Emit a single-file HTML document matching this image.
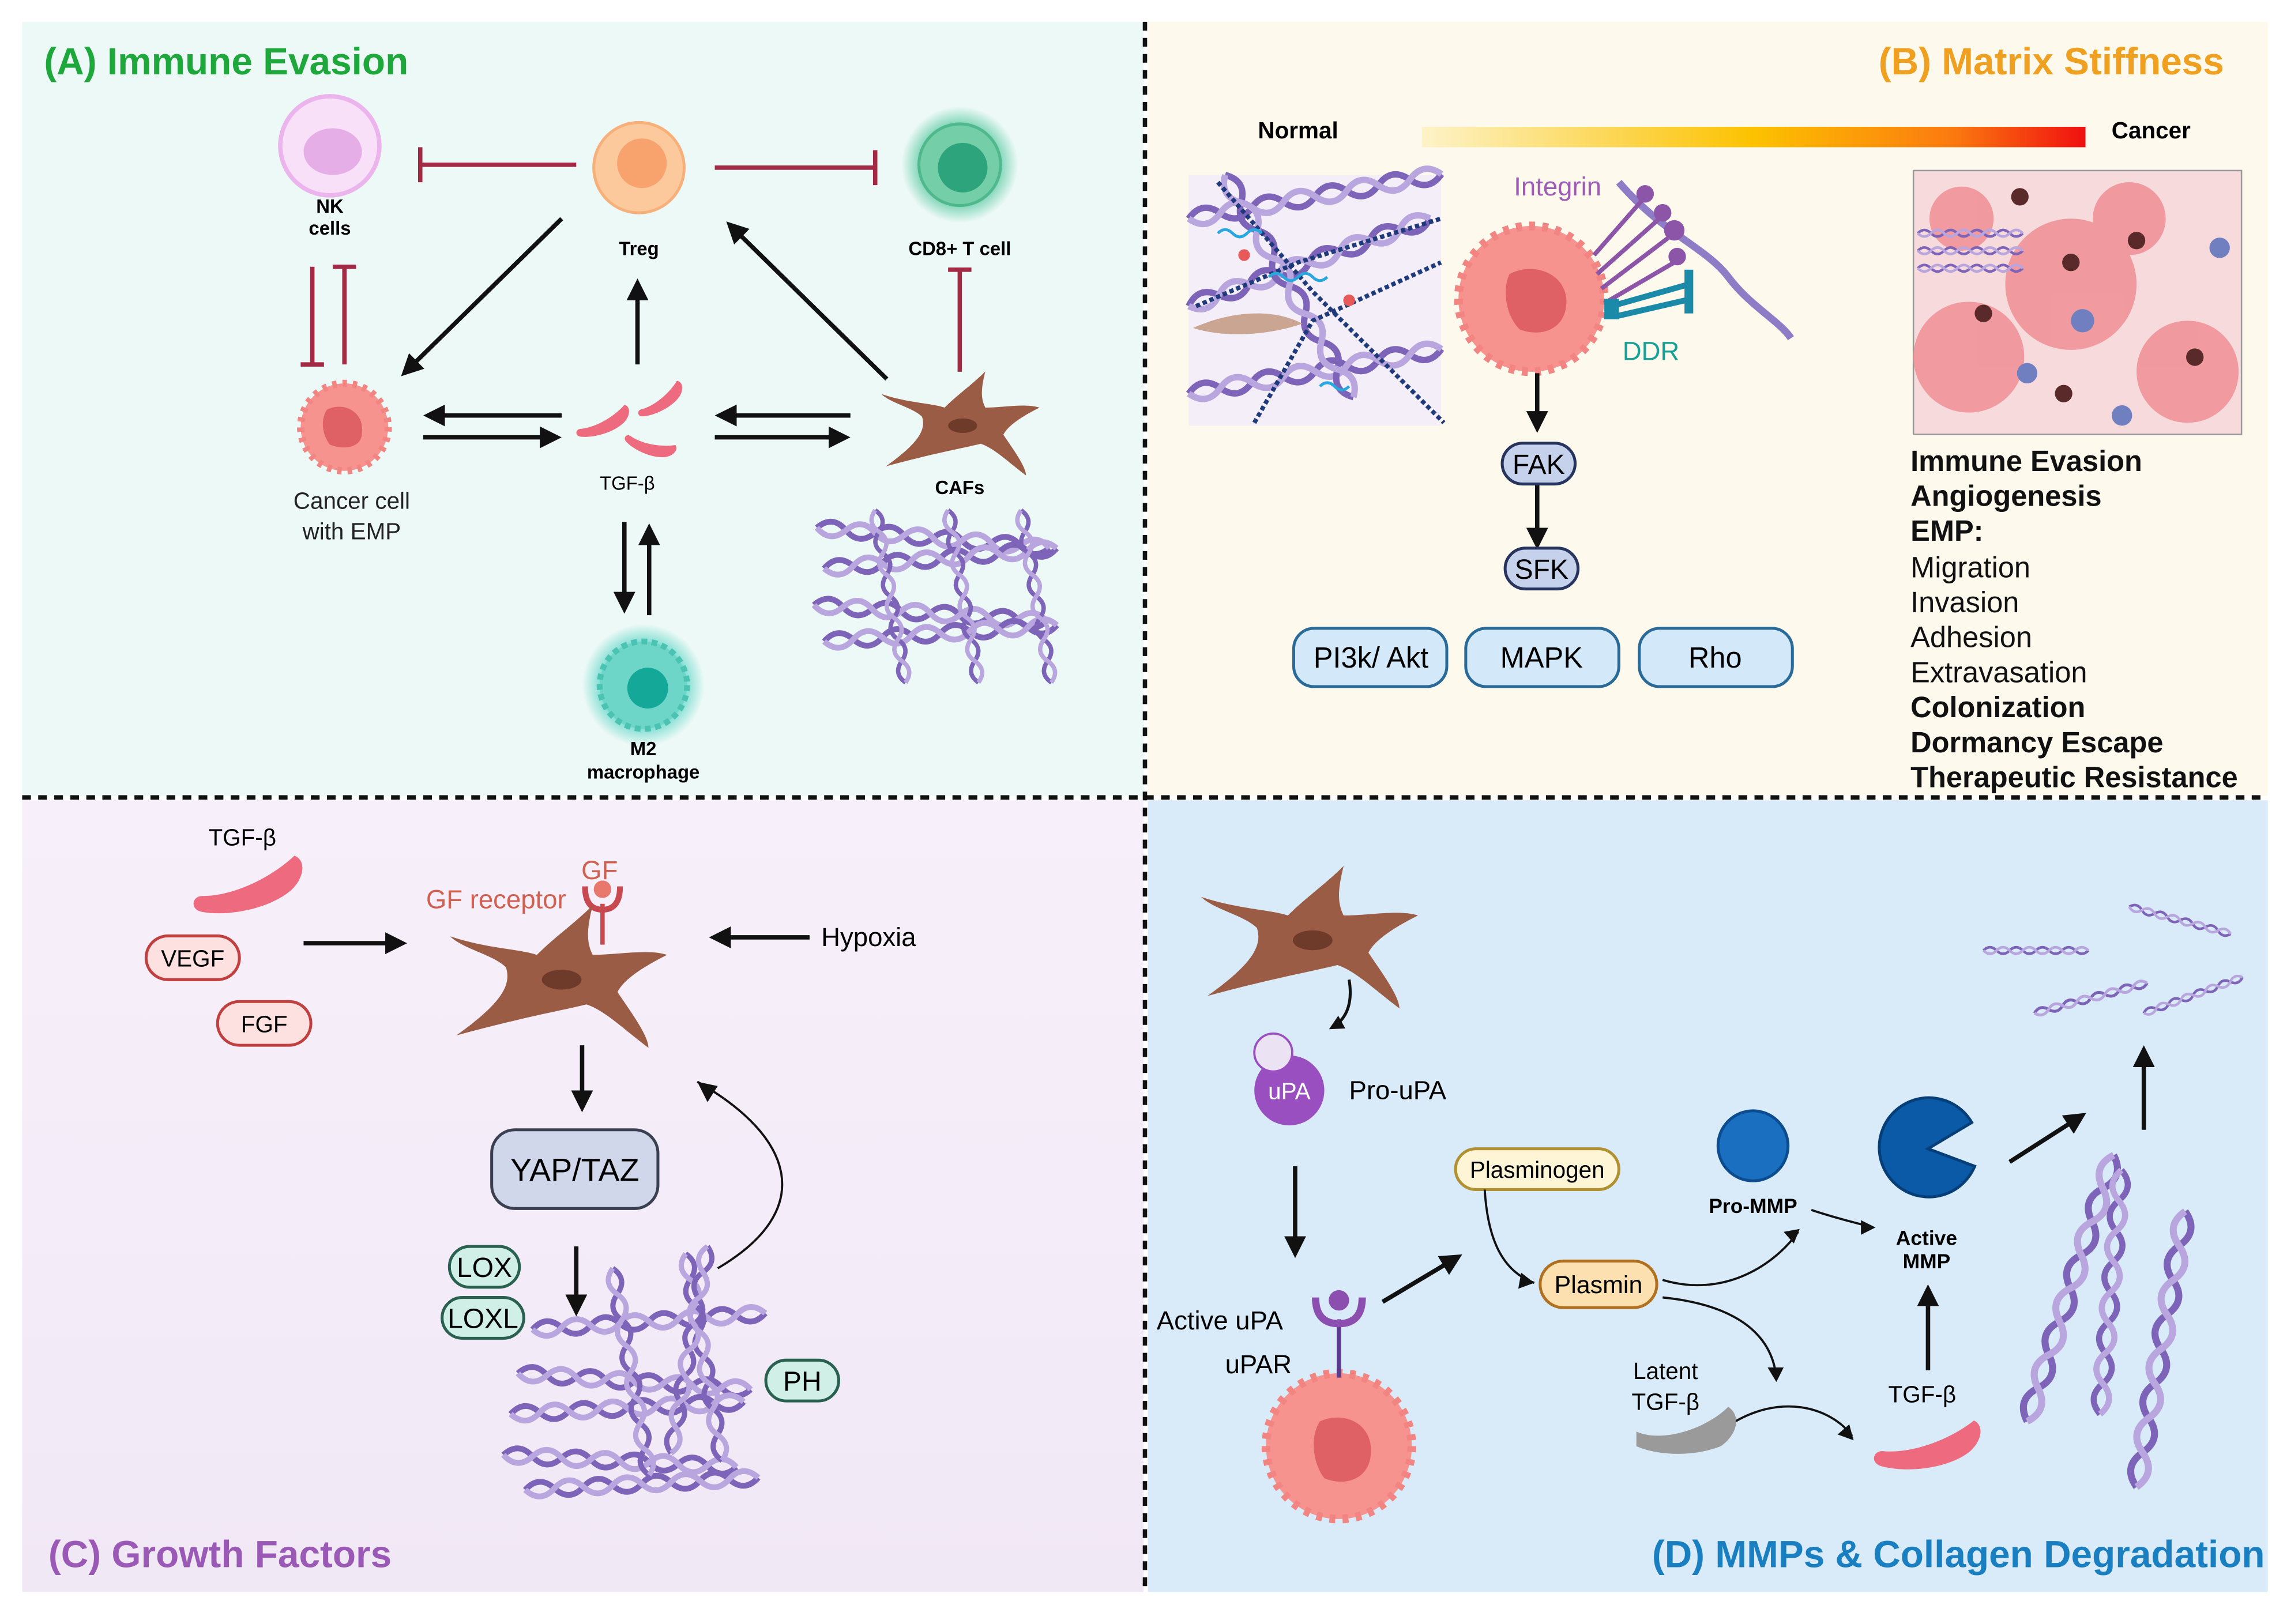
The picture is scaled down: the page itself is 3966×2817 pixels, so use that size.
<!DOCTYPE html>
<html><head><meta charset="utf-8">
<style>html,body{margin:0;padding:0;background:#fff;}svg{display:block;}
text{font-family:"Liberation Sans",sans-serif;}</style></head>
<body>
<svg width="3966" height="2817" viewBox="0 0 1568 1114" xmlns="http://www.w3.org/2000/svg">
<defs>
<marker id="ah" viewBox="0 0 10 10" refX="8" refY="5" markerWidth="5" markerHeight="5" orient="auto"><path d="M0,0 L10,5 L0,10 z" fill="#111"/></marker>
<linearGradient id="grad" x1="0" x2="1"><stop offset="0" stop-color="#fdf3c8"/><stop offset="0.5" stop-color="#fcc200"/><stop offset="0.8" stop-color="#fb7a10"/><stop offset="1" stop-color="#f01010"/></linearGradient>
<linearGradient id="gc" x1="0" y1="0" x2="0" y2="1"><stop offset="0" stop-color="#f7f0fa"/><stop offset="1" stop-color="#f1e8f6"/></linearGradient>
<radialGradient id="glowG"><stop offset="0.6" stop-color="#5fcba5"/><stop offset="1" stop-color="#5fcba5" stop-opacity="0"/></radialGradient>
<radialGradient id="glowT"><stop offset="0.6" stop-color="#5fd6c8"/><stop offset="1" stop-color="#5fd6c8" stop-opacity="0"/></radialGradient>
<g id="fib">
<path d="M0,0 q10,-10 20,0 t20,0 t20,0 t20,0 t20,0 t20,0 t20,0 t20,0" fill="none" stroke="#7d64b8" stroke-width="4"/>
<path d="M0,0 q10,10 20,0 t20,0 t20,0 t20,0 t20,0 t20,0 t20,0 t20,0" fill="none" stroke="#b9a6de" stroke-width="4"/>
</g>
<g id="caf"><path d="M-85,45 C-50,20 -40,5 -45,-10 C-55,-20 -80,-25 -90,-35 C-60,-25 -35,-25 -20,-20 C-5,-35 10,-45 25,-60 C20,-40 20,-30 25,-20 C45,-20 70,-25 85,-20 C65,-10 50,0 45,10 C55,25 70,45 70,55 C50,40 35,25 20,20 C0,25 -30,30 -85,45 z" fill="#9a5c44"/><ellipse cx="0" cy="0" rx="16" ry="8" fill="#6e3a2a"/></g>
<g id="tgf"><path d="M-30,8 C-10,10 15,0 30,-12 C38,-8 34,4 25,10 C10,20 -15,22 -30,18 C-38,16 -36,8 -30,8 z" fill="#ee6a7e"/></g>
<g id="cell"><circle r="30" fill="#f6938f" stroke="#f28482" stroke-width="5" stroke-dasharray="3 4"/><path d="M-12,-12 C0,-18 14,-10 12,4 C12,14 0,16 -10,12 C-16,4 -16,-6 -12,-12z" fill="#e06165"/></g>
</defs>

<rect x="15" y="15" width="769" height="531" fill="#edf9f6"/>
<rect x="787" y="15" width="768" height="531" fill="#fdfaed"/>
<rect x="15" y="549" width="769" height="543" fill="url(#gc)"/>
<rect x="787" y="549" width="768" height="543" fill="#d9ebf8"/>
<line x1="785" y1="15" x2="785" y2="1092" stroke="#111" stroke-width="3" stroke-dasharray="6 5"/>
<line x1="15" y1="547" x2="1555" y2="547" stroke="#111" stroke-width="3" stroke-dasharray="6 5"/>

<!-- Panel A -->
<text x="30" y="51" font-size="26" font-weight="bold" fill="#1ea83c">(A) Immune Evasion</text>
<circle cx="226" cy="100" r="34" fill="#f9e0f9" stroke="#ecb4ec" stroke-width="3"/>
<ellipse cx="228" cy="104" rx="20" ry="16" fill="#e6aee6"/>
<text x="226" y="146" font-size="13" font-weight="bold" text-anchor="middle">NK</text>
<text x="226" y="161" font-size="13" font-weight="bold" text-anchor="middle">cells</text>
<circle cx="438" cy="115" r="31" fill="#fcc99c" stroke="#f7b07a" stroke-width="2"/>
<circle cx="440" cy="112" r="17" fill="#f8a36e"/>
<text x="438" y="175" font-size="13" font-weight="bold" text-anchor="middle">Treg</text>
<circle cx="658" cy="113" r="40" fill="url(#glowG)"/>
<circle cx="658" cy="113" r="28" fill="#74cfa8" stroke="#4fb88c" stroke-width="2"/>
<circle cx="660" cy="115" r="17" fill="#2da47c"/>
<text x="658" y="175" font-size="13" font-weight="bold" text-anchor="middle">CD8+ T cell</text>
<g stroke="#a32a45" stroke-width="3" fill="none">
<line x1="395" y1="113" x2="288" y2="113"/><line x1="288" y1="101" x2="288" y2="125"/>
<line x1="490" y1="115" x2="600" y2="115"/><line x1="600" y1="103" x2="600" y2="127"/>
<line x1="214" y1="183" x2="214" y2="250"/><line x1="206" y1="250" x2="222" y2="250"/>
<line x1="236" y1="250" x2="236" y2="183"/><line x1="228" y1="183" x2="244" y2="183"/>
<line x1="658" y1="255" x2="658" y2="185"/><line x1="650" y1="185" x2="666" y2="185"/>
</g>
<g stroke="#111" stroke-width="3" marker-end="url(#ah)">
<line x1="385" y1="150" x2="277" y2="256"/>
<line x1="608" y1="260" x2="500" y2="154"/>
<line x1="437" y1="250" x2="437" y2="194"/>
<line x1="385" y1="285" x2="293" y2="285"/>
<line x1="290" y1="300" x2="382" y2="300"/>
<line x1="583" y1="285" x2="493" y2="285"/>
<line x1="490" y1="300" x2="580" y2="300"/>
<line x1="428" y1="358" x2="428" y2="418"/>
<line x1="445" y1="422" x2="445" y2="362"/>
</g>
<use href="#cell" x="236" y="293"/>
<text x="241" y="349" font-size="16" text-anchor="middle" fill="#222">Cancer cell</text>
<text x="241" y="370" font-size="16" text-anchor="middle" fill="#222">with EMP</text>
<use href="#tgf" transform="translate(413,287) scale(0.55) rotate(-10)"/>
<use href="#tgf" transform="translate(452,272) scale(0.5) rotate(-20)"/>
<use href="#tgf" transform="translate(447,303) scale(0.5) rotate(30)"/>
<text x="430" y="336" font-size="13" text-anchor="middle">TGF-β</text>
<use href="#caf" transform="translate(660,292) scale(0.62)"/>
<text x="658" y="339" font-size="13" font-weight="bold" text-anchor="middle">CAFs</text>
<use href="#fib" transform="translate(560,362) rotate(5)"/><use href="#fib" transform="translate(565,390) rotate(-5)"/><use href="#fib" transform="translate(558,415) rotate(4)"/><use href="#fib" transform="translate(565,440) rotate(-4)"/>
<use href="#fib" transform="translate(600,350) rotate(80) scale(0.75)"/><use href="#fib" transform="translate(650,350) rotate(80) scale(0.75)"/><use href="#fib" transform="translate(700,350) rotate(80) scale(0.75)"/>
<circle cx="441" cy="470" r="42" fill="url(#glowT)"/>
<circle cx="441" cy="470" r="30" fill="#6dd6c8" stroke="#4bc3b3" stroke-width="4" stroke-dasharray="4 3"/>
<circle cx="444" cy="472" r="14" fill="#14a898"/>
<text x="441" y="518" font-size="13" font-weight="bold" text-anchor="middle">M2</text>
<text x="441" y="534" font-size="13" font-weight="bold" text-anchor="middle">macrophage</text>

<!-- Panel B -->
<text x="1525" y="51" font-size="26" font-weight="bold" fill="#f0a020" text-anchor="end">(B) Matrix Stiffness</text>
<text x="890" y="95" font-size="16" font-weight="bold" text-anchor="middle">Normal</text>
<rect x="975" y="87" width="455" height="14" fill="url(#grad)"/>
<text x="1475" y="95" font-size="16" font-weight="bold" text-anchor="middle">Cancer</text>
<rect x="815" y="120" width="173" height="172" fill="#f4eef8"/>
<use href="#fib" transform="translate(815,150) rotate(-10) scale(1.1)"/>
<use href="#fib" transform="translate(815,210) rotate(-20) scale(1.1)"/>
<use href="#fib" transform="translate(815,270) rotate(-10) scale(1.1)"/>
<use href="#fib" transform="translate(840,120) rotate(60) scale(1.1)"/>
<path d="M835,125 L900,200 L990,290 M820,210 L890,180 L988,150 M860,290 L900,220 L988,180" stroke="#1f3a7a" stroke-width="3" stroke-dasharray="3 2" fill="none"/>
<path d="M818,225 C840,215 870,210 893,222 C870,230 840,232 818,225z" fill="#c9a592"/>
<circle cx="853" cy="175" r="4" fill="#e85a5a"/><circle cx="925" cy="206" r="4" fill="#e85a5a"/>
<path d="M835,160 q5,-5 10,0 t10,0 t10,0 M870,190 q5,-5 10,0 t10,0 t10,0 t10,0 M905,265 q5,-5 10,0 t10,0" stroke="#29a8e0" stroke-width="2" fill="none"/>
<path d="M1110,125 C1140,160 1170,170 1185,190 C1200,210 1220,220 1228,232" stroke="#8f7cc6" stroke-width="5" fill="none"/>
<circle cx="1050" cy="205" r="50" fill="#f6938f" stroke="#f28482" stroke-width="6" stroke-dasharray="4 5"/>
<path d="M1035,188 C1050,180 1072,186 1074,205 C1075,225 1058,232 1042,226 C1032,216 1030,198 1035,188z" fill="#e06165"/>
<g stroke="#8c55a8" stroke-width="3"><line x1="1093" y1="175" x2="1128" y2="135"/><line x1="1095" y1="188" x2="1140" y2="148"/><line x1="1098" y1="198" x2="1148" y2="160"/><line x1="1100" y1="208" x2="1148" y2="180"/></g>
<g fill="#8c55a8"><circle cx="1128" cy="133" r="6"/><circle cx="1140" cy="146" r="6"/><circle cx="1148" cy="158" r="7"/><circle cx="1150" cy="176" r="6"/></g>
<text x="1068" y="134" font-size="18" fill="#9d5bb5" text-anchor="middle">Integrin</text>
<g stroke="#1a8aa8" stroke-width="4"><line x1="1105" y1="210" x2="1158" y2="195"/><line x1="1108" y1="217" x2="1160" y2="205"/></g>
<rect x="1100" y="205" width="10" height="14" fill="#1a8aa8"/><rect x="1155" y="185" width="6" height="30" fill="#1a8aa8"/>
<text x="1132" y="247" font-size="18" fill="#16a096" text-anchor="middle">DDR</text>
<g stroke="#111" stroke-width="3" marker-end="url(#ah)"><line x1="1054" y1="256" x2="1054" y2="294"/><line x1="1054" y1="332" x2="1054" y2="374"/></g>
<rect x="1030" y="304" width="50" height="28" rx="14" fill="#c6d2ec" stroke="#26345e" stroke-width="2"/>
<text x="1055" y="325" font-size="19" text-anchor="middle">FAK</text>
<rect x="1032" y="376" width="50" height="28" rx="14" fill="#c6d2ec" stroke="#26345e" stroke-width="2"/>
<text x="1057" y="397" font-size="19" text-anchor="middle">SFK</text>
<g fill="#d3e8f8" stroke="#2a6a98" stroke-width="2">
<rect x="887" y="431" width="105" height="40" rx="14"/><rect x="1005" y="431" width="105" height="40" rx="14"/><rect x="1124" y="431" width="105" height="40" rx="14"/></g>
<g font-size="20" text-anchor="middle"><text x="940" y="458">PI3k/ Akt</text><text x="1057" y="458">MAPK</text><text x="1176" y="458">Rho</text></g>
<rect x="1312" y="117" width="225" height="181" fill="#f6dadc" stroke="#999" stroke-width="1"/>
<g fill="#f08e94" opacity="0.85"><circle cx="1350" cy="245" r="38"/><circle cx="1420" cy="195" r="45"/><circle cx="1500" cy="255" r="35"/><circle cx="1345" cy="150" r="22"/><circle cx="1460" cy="150" r="25"/></g>
<g fill="#5a2a2a"><circle cx="1385" cy="135" r="6"/><circle cx="1420" cy="180" r="6"/><circle cx="1465" cy="165" r="6"/><circle cx="1360" cy="215" r="6"/><circle cx="1505" cy="245" r="6"/><circle cx="1415" cy="270" r="6"/></g>
<g fill="#6f7fc0"><circle cx="1428" cy="220" r="8"/><circle cx="1390" cy="256" r="7"/><circle cx="1522" cy="170" r="7"/><circle cx="1455" cy="285" r="7"/></g>
<use href="#fib" transform="translate(1315,160) scale(0.45)"/><use href="#fib" transform="translate(1315,172) scale(0.45)"/><use href="#fib" transform="translate(1315,184) scale(0.45)"/>
<g font-size="20" fill="#111">
<text x="1310" y="323" font-weight="bold">Immune Evasion</text>
<text x="1310" y="347" font-weight="bold">Angiogenesis</text>
<text x="1310" y="371" font-weight="bold">EMP:</text>
<text x="1310" y="396">Migration</text>
<text x="1310" y="420">Invasion</text>
<text x="1310" y="444">Adhesion</text>
<text x="1310" y="468">Extravasation</text>
<text x="1310" y="492" font-weight="bold">Colonization</text>
<text x="1310" y="516" font-weight="bold">Dormancy Escape</text>
<text x="1310" y="540" font-weight="bold">Therapeutic Resistance</text>
</g>

<!-- Panel C -->
<text x="166" y="580" font-size="16" text-anchor="middle">TGF-β</text>
<use href="#tgf" transform="translate(170,603) scale(1.1) rotate(-5)"/>
<rect x="100" y="642" width="64" height="30" rx="15" fill="#fde0e0" stroke="#c04040" stroke-width="2"/>
<text x="132" y="663" font-size="16" text-anchor="middle">VEGF</text>
<rect x="149" y="687" width="64" height="30" rx="15" fill="#fde0e0" stroke="#c04040" stroke-width="2"/>
<text x="181" y="708" font-size="16" text-anchor="middle">FGF</text>
<g stroke="#111" stroke-width="3" marker-end="url(#ah)">
<line x1="208" y1="647" x2="276" y2="647"/>
<line x1="555" y1="643" x2="489" y2="643"/>
<line x1="399" y1="717" x2="399" y2="760"/>
<line x1="395" y1="855" x2="395" y2="900"/>
</g>
<text x="563" y="649" font-size="18">Hypoxia</text>
<text x="340" y="623" font-size="18" fill="#d06050" text-anchor="middle">GF receptor</text>
<text x="411" y="603" font-size="18" fill="#d06050" text-anchor="middle">GF</text>
<line x1="413" y1="620" x2="413" y2="648" stroke="#c84a50" stroke-width="3"/>
<path d="M401,608 Q401,624 413,624 Q425,624 425,608" stroke="#c84a50" stroke-width="4" fill="none"/>
<circle cx="413" cy="610" r="6" fill="#e8786c"/>
<use href="#caf" transform="translate(385,672) scale(0.85)"/>
<rect x="337" y="775" width="114" height="54" rx="16" fill="#d0d7ea" stroke="#3a4050" stroke-width="2"/>
<text x="394" y="810" font-size="22" text-anchor="middle">YAP/TAZ</text>
<g fill="#d0efe6" stroke="#2a6050" stroke-width="2">
<rect x="308" y="855" width="48" height="28" rx="14"/><rect x="303" y="890" width="56" height="28" rx="14"/><rect x="525" y="933" width="50" height="28" rx="14"/></g>
<g font-size="19" text-anchor="middle"><text x="332" y="876">LOX</text><text x="331" y="911">LOXL</text><text x="550" y="954">PH</text></g>
<use href="#fib" transform="translate(365,912) rotate(-4)"/><use href="#fib" transform="translate(355,942) rotate(4)"/><use href="#fib" transform="translate(350,970) rotate(-3)"/><use href="#fib" transform="translate(345,998) rotate(3)"/><use href="#fib" transform="translate(360,1022) rotate(-3)"/>
<use href="#fib" transform="translate(420,870) rotate(80) scale(0.9)"/><use href="#fib" transform="translate(470,860) rotate(80) scale(0.9)"/><use href="#fib" transform="translate(485,855) rotate(100) scale(0.9)"/>
<path d="M492,870 C560,830 545,780 478,742" stroke="#111" stroke-width="1.5" fill="none"/>
<path d="M478,742 L492,745 L485,756 z" fill="#111"/>
<text x="33" y="1075" font-size="26" font-weight="bold" fill="#9b59b6">(C) Growth Factors</text>

<!-- Panel D -->
<use href="#caf" transform="translate(900,645) scale(0.85)"/>
<path d="M925,672 C928,690 922,700 913,705" stroke="#111" stroke-width="2" fill="none" marker-end="url(#ah)"/>
<circle cx="884" cy="748" r="24" fill="#9a4fc0"/>
<circle cx="873" cy="722" r="13" fill="#ebe3f3" stroke="#9a4fc0" stroke-width="1.5"/>
<text x="884" y="754" font-size="16" fill="#fff" text-anchor="middle">uPA</text>
<text x="925" y="754" font-size="18">Pro-uPA</text>
<g stroke="#111" stroke-width="3" marker-end="url(#ah)">
<line x1="888" y1="800" x2="888" y2="860"/>
<line x1="948" y1="893" x2="1000" y2="862"/>
<line x1="1322" y1="940" x2="1322" y2="884"/>
<line x1="1378" y1="797" x2="1428" y2="765"/>
<line x1="1470" y1="775" x2="1470" y2="720"/>
</g>
<text x="793" y="912" font-size="18">Active uPA</text>
<text x="840" y="942" font-size="18">uPAR</text>
<circle cx="918" cy="992" r="50" fill="#f6938f" stroke="#f28482" stroke-width="6" stroke-dasharray="4 5"/>
<path d="M905,975 C920,968 940,975 940,995 C940,1015 922,1020 908,1014 C900,1004 898,985 905,975z" fill="#e06165"/>
<line x1="918" y1="905" x2="918" y2="945" stroke="#5a3a8a" stroke-width="3"/>
<path d="M902,890 Q902,908 918,908 Q934,908 934,890" stroke="#8c4fb0" stroke-width="5" fill="none"/>
<circle cx="918" cy="892" r="7" fill="#8c4fb0"/>
<rect x="998" y="788" width="112" height="28" rx="14" fill="#fdf5d6" stroke="#b09030" stroke-width="2"/>
<text x="1054" y="808" font-size="16" text-anchor="middle">Plasminogen</text>
<rect x="1056" y="865" width="80" height="32" rx="16" fill="#fce0b0" stroke="#b07020" stroke-width="2"/>
<text x="1096" y="887" font-size="17" text-anchor="middle">Plasmin</text>
<g stroke="#111" stroke-width="1.5" fill="none">
<path d="M1018,816 C1020,850 1030,872 1052,880"/>
<path d="M1140,878 C1180,890 1215,870 1233,845"/>
<path d="M1242,830 C1260,836 1270,838 1284,842"/>
<path d="M1140,890 C1190,895 1215,915 1218,945"/>
<path d="M1185,978 C1220,955 1255,965 1270,985"/>
</g>
<g fill="#111"><path d="M1052,880 l-9,-7 l-2,11z"/><path d="M1234,843 l-11,2 l7,8z"/><path d="M1286,842 l-10,-5 l0,10z"/><path d="M1218,948 l-6,-10 l11,0z"/><path d="M1271,988 l-3,-11 l-8,7z"/></g>
<circle cx="1202" cy="786" r="24" fill="#1a6fc0" stroke="#0c4d90" stroke-width="2"/>
<text x="1202" y="832" font-size="14" font-weight="bold" text-anchor="middle">Pro-MMP</text>
<path d="M1322,788 L1352,770 A34,34 0 1,0 1354,800 z" fill="#0a5aa8" stroke="#063f78" stroke-width="2"/>
<text x="1321" y="854" font-size="14" font-weight="bold" text-anchor="middle">Active</text>
<text x="1321" y="870" font-size="14" font-weight="bold" text-anchor="middle">MMP</text>
<text x="1142" y="946" font-size="16" text-anchor="middle">Latent</text>
<text x="1142" y="967" font-size="16" text-anchor="middle">TGF-β</text>
<path d="M1122,982 C1140,990 1170,980 1185,965 C1195,972 1190,985 1180,992 C1160,1000 1135,998 1122,992z" fill="#9a9a9a"/>
<text x="1318" y="962" font-size="16" text-anchor="middle">TGF-β</text>
<use href="#tgf" transform="translate(1322,987) scale(1.05)"/>
<use href="#fib" transform="translate(1360,652) scale(0.45)"/>
<use href="#fib" transform="translate(1460,622) rotate(15) scale(0.45)"/>
<use href="#fib" transform="translate(1395,695) rotate(-15) scale(0.5)"/>
<use href="#fib" transform="translate(1470,695) rotate(-20) scale(0.45)"/>
<use href="#fib" transform="translate(1390,975) rotate(-72) scale(1.2)"/>
<use href="#fib" transform="translate(1440,970) rotate(-85) scale(1.05)"/>
<use href="#fib" transform="translate(1465,1020) rotate(-80) scale(1.2)"/>
<text x="1553" y="1075" font-size="26" font-weight="bold" fill="#1a7fc0" text-anchor="end">(D) MMPs &amp; Collagen Degradation</text>
</svg>
</body></html>
